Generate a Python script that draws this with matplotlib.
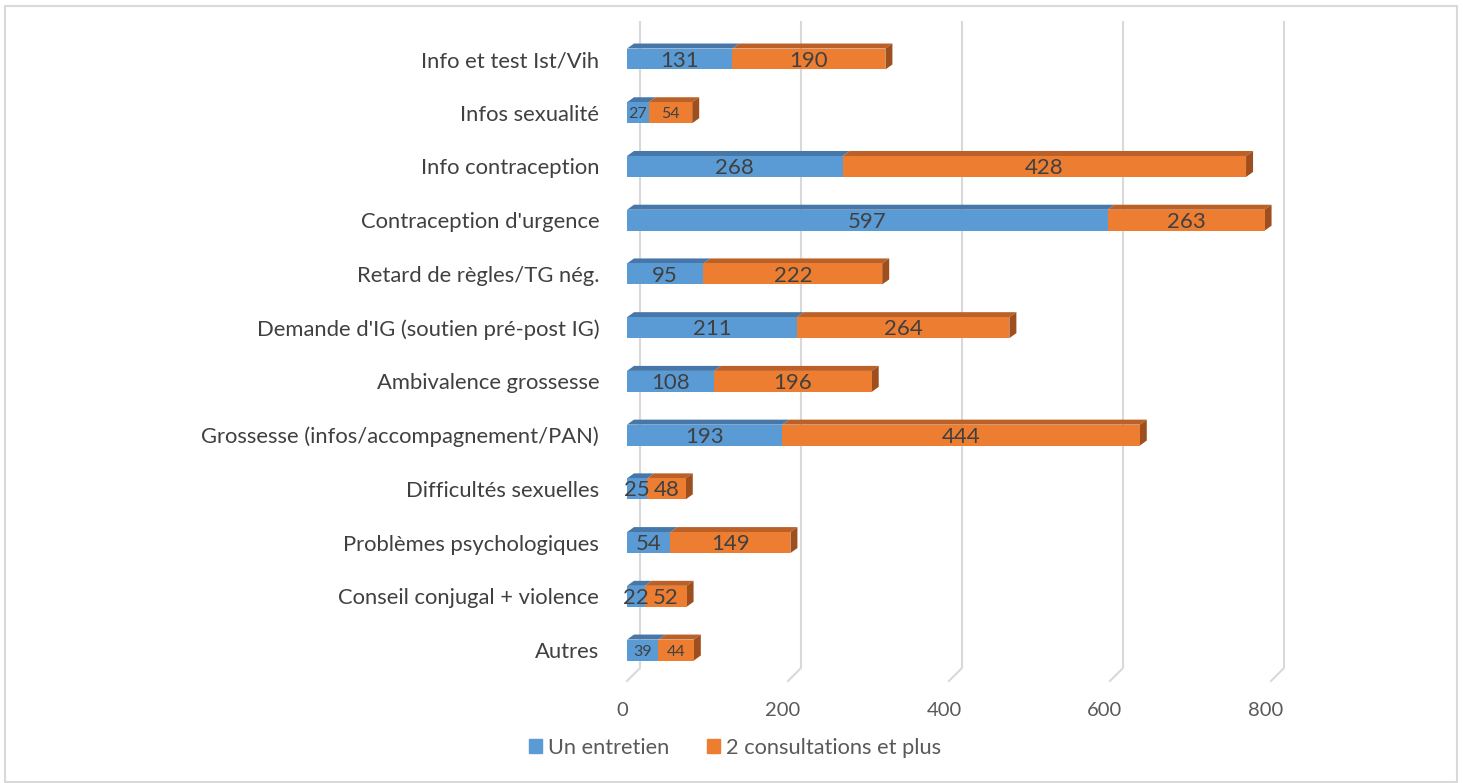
import matplotlib.pyplot as plt
from matplotlib.patches import Polygon, Patch, Rectangle
from matplotlib.transforms import ScaledTranslation

categories = [
    "Info et test Ist/Vih",
    "Infos sexualité",
    "Info contraception",
    "Contraception d'urgence",
    "Retard de règles/TG nég.",
    "Demande d'IG (soutien pré-post IG)",
    "Ambivalence grossesse",
    "Grossesse (infos/accompagnement/PAN)",
    "Difficultés sexuelles",
    "Problèmes psychologiques",
    "Conseil conjugal + violence",
    "Autres",
]
un_entretien = [131, 27, 268, 597, 95, 211, 108, 193, 25, 54, 22, 39]
# bar lengths as drawn in the picture (two of them do not match their labels)
deux_consult = [190, 54, 501, 195, 222, 264, 196, 444, 48, 149, 52, 44]
deux_consult_labels = [190, 54, 428, 263, 222, 264, 196, 444, 48, 149, 52, 44]
small_label_rows = ["Infos sexualité", "Autres"]
xticks = [0, 200, 400, 600, 800]

plt.rcParams["font.family"] = ["Lato", "DejaVu Sans"]

W, H = 1463, 783
fig = plt.figure(figsize=(W / 100, H / 100), dpi=100)
# chart border
fig.patches.append(Rectangle((5 / W, 1 / H), 1452 / W, 776 / H, transform=fig.transFigure,
                             fill=False, edgecolor="#D9D9D9", lw=1.5))

px_x = 0.805          # pixels per unit
row_px = 53.73        # pixels per row
ax_left, ax_top, ax_bottom = 627, 22, 681
ax = fig.add_axes([ax_left / W, (H - ax_bottom) / H, 800 * px_x / W, (ax_bottom - ax_top) / H])
ax.set_xlim(0, 800)
ax.set_ylim((ax_bottom - 59) / row_px, (ax_top - 59) / row_px)
for s in ax.spines.values():
    s.set_visible(False)

grid_c = "#D9D9D9"
gx = 13 / px_x
y_top = (ax_top - 59) / row_px
y_back = (668 - 59) / row_px
y_front = (ax_bottom - 59) / row_px
for x in xticks:
    ax.plot([x + gx, x + gx, x], [y_top, y_back, y_front], color=grid_c, lw=1.5,
            clip_on=False, zorder=0)

blue, blue_top = "#5B9BD5", "#4677A8"
orange, orange_top, orange_side = "#ED7D31", "#BB6026", "#9E4F1D"
bh = 0.39
dx = 7 / px_x
dy = 5 / row_px

for i, cat in enumerate(categories):
    b = un_entretien[i]
    o = deux_consult[i]
    top = i - bh / 2
    bottom = i + bh / 2
    segs = [(0, b, blue, blue_top), (b, b + o, orange, orange_top)]
    for x0, x1, c, ct in segs:
        ax.add_patch(Polygon([(x0, top), (x1, top), (x1 + dx, top - dy), (x0 + dx, top - dy)],
                             closed=True, facecolor=ct, edgecolor="none", zorder=3, clip_on=False))
    end = b + o
    ax.add_patch(Polygon([(end, top), (end + dx, top - dy), (end + dx, bottom - dy), (end, bottom)],
                         closed=True, facecolor=orange_side, edgecolor="none", zorder=3, clip_on=False))
    ax.barh(i, b, left=0, height=bh, color=blue, zorder=4)
    ax.barh(i, o, left=b, height=bh, color=orange, zorder=4)
    fs = 11.5 if cat in small_label_rows else 16
    ax.text(b / 2, i + 0.03, str(b), ha="center", va="center", fontsize=fs, color="#404040", zorder=5)
    ax.text(b + o / 2, i + 0.03, str(deux_consult_labels[i]), ha="center", va="center",
            fontsize=fs, color="#404040", zorder=5)

ax.set_yticks(range(len(categories)))
ax.set_yticklabels(categories, fontsize=15.8, color="#404040")
ax.tick_params(axis="y", length=0, pad=20)
ax.set_xticks(xticks)
ax.set_xticklabels([str(t) for t in xticks], fontsize=14.5, color="#595959")
ax.tick_params(axis="x", length=0, pad=15)
for lab in ax.get_xticklabels():
    lab.set_transform(lab.get_transform() + ScaledTranslation(-5 / 100, 0, fig.dpi_scale_trans))

handles = [Patch(color=blue, label="Un entretien"), Patch(color=orange, label="2 consultations et plus")]
fig.legend(handles=handles, loc="center", bbox_to_anchor=(735 / W, 1 - 748 / H), ncol=2,
           frameon=False, fontsize=15.7, labelcolor="#595959", handlelength=0.6, handleheight=0.6,
           handletextpad=0.3, columnspacing=1.7)

fig.savefig("out.png", dpi=100)
